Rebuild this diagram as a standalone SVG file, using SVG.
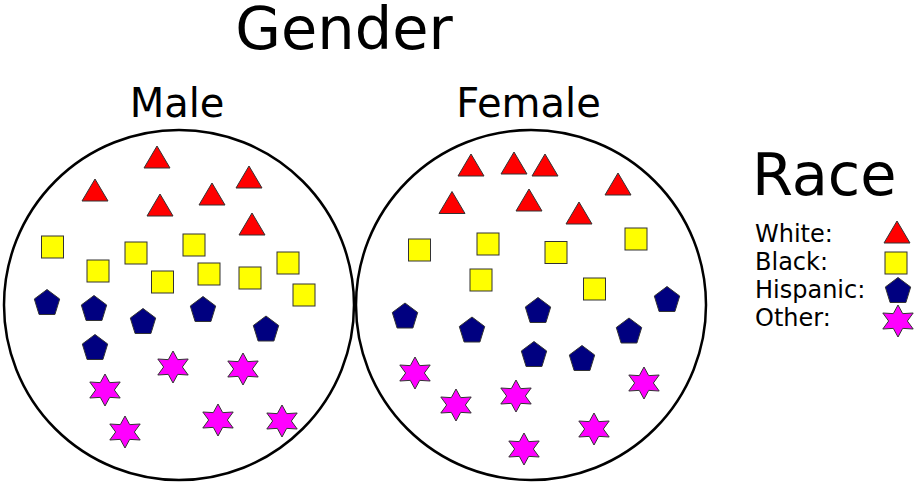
<svg xmlns="http://www.w3.org/2000/svg" xmlns:xlink="http://www.w3.org/1999/xlink" width="916" height="485" viewBox="0 0 916 485">
<style>
text{font-family:"DejaVu Sans","Liberation Sans",sans-serif;fill:#000}
.title{font-size:59px;text-anchor:middle}
.group{font-size:40px;text-anchor:middle}
.race{font-size:59px}
.leg{font-size:24px}
.set{fill:#fff;stroke:#000;stroke-width:2.5}
.w{fill:#ff0000;stroke:#333;stroke-width:1}
.b{fill:#ffff00;stroke:#333;stroke-width:1}
.h{fill:#000080;stroke:#333;stroke-width:1}
.o{fill:#ff00ff;stroke:#333;stroke-width:1}
</style>
<defs>
<polygon id="tri" class="w" points="0,-11 13,11 -13,11"/>
<rect id="sq" class="b" x="-11" y="-11" width="22" height="22"/>
<polygon id="pent" class="h" points="0,-12.5 12.7,-3 7.9,12.5 -7.9,12.5 -12.7,-3"/>
<polygon id="star" class="o" points="0,-16 4.7,-7.36 15.2,-8 9.35,0 15.2,8 4.7,7.36 0,16 -4.7,7.36 -15.2,8 -9.35,0 -15.2,-8 -4.7,-7.36"/>
</defs>
<rect width="916" height="485" fill="#fff"/>
<text class="title" x="344" y="49">Gender</text>
<g id="male">
<circle class="set" cx="179" cy="305" r="175"/>
<text class="group" x="177" y="117">Male</text>
<use xlink:href="#tri" x="157" y="157"/>
<use xlink:href="#tri" x="95" y="190"/>
<use xlink:href="#tri" x="249" y="177"/>
<use xlink:href="#tri" x="212" y="194"/>
<use xlink:href="#tri" x="160" y="205"/>
<use xlink:href="#tri" x="252" y="224"/>
<use xlink:href="#sq" x="52.5" y="247"/>
<use xlink:href="#sq" x="98" y="271"/>
<use xlink:href="#sq" x="136" y="253"/>
<use xlink:href="#sq" x="194" y="245"/>
<use xlink:href="#sq" x="162.5" y="282"/>
<use xlink:href="#sq" x="209" y="274"/>
<use xlink:href="#sq" x="250" y="278"/>
<use xlink:href="#sq" x="288" y="263"/>
<use xlink:href="#sq" x="304" y="295"/>
<use xlink:href="#pent" x="47" y="302"/>
<use xlink:href="#pent" x="94" y="308"/>
<use xlink:href="#pent" x="143" y="321"/>
<use xlink:href="#pent" x="203" y="309"/>
<use xlink:href="#pent" x="266" y="328.5"/>
<use xlink:href="#pent" x="95" y="347"/>
<use xlink:href="#star" x="173" y="367"/>
<use xlink:href="#star" x="243" y="369"/>
<use xlink:href="#star" x="105" y="390"/>
<use xlink:href="#star" x="218" y="420"/>
<use xlink:href="#star" x="282" y="421"/>
<use xlink:href="#star" x="125" y="432"/>
</g>
<g id="female">
<circle class="set" cx="531" cy="305" r="175"/>
<text class="group" x="528.5" y="117">Female</text>
<use xlink:href="#tri" x="471" y="165"/>
<use xlink:href="#tri" x="514" y="163"/>
<use xlink:href="#tri" x="545" y="165"/>
<use xlink:href="#tri" x="618" y="184"/>
<use xlink:href="#tri" x="452" y="202.5"/>
<use xlink:href="#tri" x="529" y="200"/>
<use xlink:href="#tri" x="579" y="213"/>
<use xlink:href="#sq" x="419.5" y="250"/>
<use xlink:href="#sq" x="488" y="244"/>
<use xlink:href="#sq" x="556" y="252.5"/>
<use xlink:href="#sq" x="636" y="239"/>
<use xlink:href="#sq" x="481" y="280"/>
<use xlink:href="#sq" x="594.5" y="289"/>
<use xlink:href="#pent" x="405" y="315.5"/>
<use xlink:href="#pent" x="472" y="329.5"/>
<use xlink:href="#pent" x="538" y="310"/>
<use xlink:href="#pent" x="667" y="299"/>
<use xlink:href="#pent" x="629" y="330.5"/>
<use xlink:href="#pent" x="534" y="354"/>
<use xlink:href="#pent" x="582" y="358"/>
<use xlink:href="#star" x="415" y="373"/>
<use xlink:href="#star" x="456" y="405"/>
<use xlink:href="#star" x="516" y="396"/>
<use xlink:href="#star" x="644" y="383"/>
<use xlink:href="#star" x="594" y="429"/>
<use xlink:href="#star" x="524" y="449"/>
</g>
<g id="legend">
<text class="race" x="752" y="195">Race</text>
<text class="leg" x="755" y="242">White:</text>
<text class="leg" x="755" y="270">Black:</text>
<text class="leg" x="755" y="298">Hispanic:</text>
<text class="leg" x="755" y="326">Other:</text>
<use xlink:href="#tri" x="897" y="232"/>
<use xlink:href="#sq" x="896" y="263"/>
<use xlink:href="#pent" x="898" y="290"/>
<use xlink:href="#star" x="898" y="321"/>
</g>
</svg>
